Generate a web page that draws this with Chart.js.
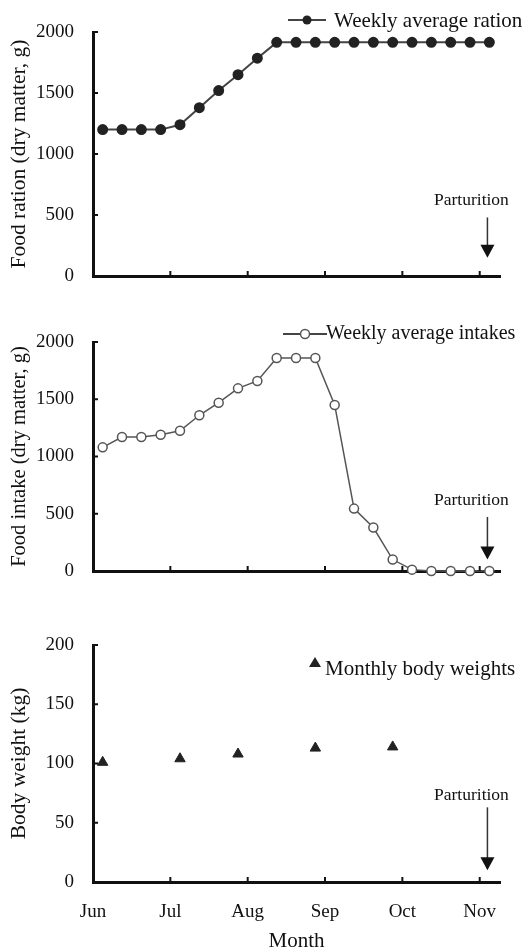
<!DOCTYPE html>
<html>
<head>
<meta charset="utf-8">
<script src="https://cdn.jsdelivr.net/npm/chart.js@4.4.0/dist/chart.umd.min.js"></script>
<style>
  body { margin: 0; background: #fff; width: 529px; height: 950px; overflow: hidden; }
  canvas { position: absolute; left: 0; }
</style>
</head>
<body>
<canvas id="rationChart" width="529" height="300" style="top:0"></canvas>
<canvas id="intakeChart" width="529" height="300" style="top:300px"></canvas>
<canvas id="weightChart" width="529" height="350" style="top:600px"></canvas>
<script>
// month labels sit on the week axis every 4 weeks
const months = ["Jun", "Jul", "Aug", "Sep", "Oct", "Nov"];
const monthWeeks = [0.5, 4.5, 8.5, 12.5, 16.5, 20.5];

const weeks = [1, 2, 3, 4, 5, 6, 7, 8, 9, 10, 11, 12, 13, 14, 15, 16, 17, 18, 19, 20, 21];
const rationValues = [1200, 1200, 1200, 1200, 1240, 1380, 1520, 1650, 1785, 1915, 1915,
  1915, 1915, 1915, 1915, 1915, 1915, 1915, 1915, 1915, 1915];
const intakeValues = [1080, 1170, 1170, 1190, 1225, 1360, 1470, 1595, 1660, 1860, 1860,
  1860, 1450, 545, 380, 100, 12, 0, 0, 0, 0];

const weightWeeks = [1, 5, 8, 12, 16];
const weightValues = [101, 104, 108, 113, 114];

const partWeek = 20.9;
const serif = "'Liberation Serif', 'Times New Roman', serif";

const decor = {
  id: "decor",
  afterDraw(chart, args, o) {
    const { ctx, chartArea: a, scales: { x, y } } = chart;
    const line = (x1, y1, x2, y2) => { ctx.beginPath(); ctx.moveTo(x1, y1); ctx.lineTo(x2, y2); ctx.stroke(); };
    ctx.save();
    // inward tick marks
    ctx.strokeStyle = "#111";
    ctx.lineWidth = 2;
    monthWeeks.slice(1).forEach(w => {
      const px = x.getPixelForValue(w);
      line(px, a.bottom, px, a.bottom - 5);
    });
    y.ticks.forEach(t => {
      if (t.value === 0) return;
      const py = y.getPixelForValue(t.value);
      line(a.left, py, a.left + 5, py);
    });

    // legend
    const lg = o.legend;
    ctx.strokeStyle = "#444";
    ctx.lineWidth = 2;
    if (lg.lineFrom != null) line(lg.lineFrom, lg.y, lg.lineTo, lg.y);
    ctx.lineWidth = 1.5;
    if (lg.marker === "dot") {
      ctx.fillStyle = "#222";
      ctx.beginPath(); ctx.arc(lg.mx, lg.y, 4.5, 0, Math.PI * 2); ctx.fill();
    } else if (lg.marker === "ring") {
      ctx.fillStyle = "#fff"; ctx.strokeStyle = "#555";
      ctx.beginPath(); ctx.arc(lg.mx, lg.y, 4.5, 0, Math.PI * 2); ctx.fill(); ctx.stroke();
    } else {
      ctx.fillStyle = "#222";
      ctx.beginPath();
      ctx.moveTo(lg.mx, lg.y - 6); ctx.lineTo(lg.mx + 6, lg.y + 4); ctx.lineTo(lg.mx - 6, lg.y + 4);
      ctx.closePath(); ctx.fill();
    }
    ctx.fillStyle = "#111";
    ctx.font = lg.size + "px " + serif;
    ctx.textAlign = "left";
    ctx.textBaseline = "middle";
    ctx.fillText(lg.text, lg.tx, lg.ty);

    // parturition arrow
    const p = o.part;
    const ax = x.getPixelForValue(partWeek);
    const y1 = y.getPixelForValue(p.from);
    const y2 = y.getPixelForValue(p.to);
    ctx.font = "17.5px " + serif;
    ctx.textAlign = "center";
    ctx.fillText("Parturition", ax - 16, y.getPixelForValue(p.label));
    ctx.strokeStyle = "#333";
    ctx.lineWidth = 1.5;
    line(ax, y1, ax, y2 - 10);
    ctx.fillStyle = "#111";
    ctx.beginPath();
    ctx.moveTo(ax - 7, y2 - 13); ctx.lineTo(ax + 7, y2 - 13); ctx.lineTo(ax, y2);
    ctx.closePath(); ctx.fill();
    ctx.restore();
  }
};

function xAxis(height, showLabels) {
  return {
    type: "linear",
    min: 0.5,
    max: 21.55,
    afterBuildTicks: s => { s.ticks = monthWeeks.map(v => ({ value: v })); },
    afterFit: s => { s.height = height; },
    grid: { display: false },
    border: { color: "#111", width: 3 },
    ticks: {
      display: showLabels,
      padding: 11,
      color: "#111",
      font: { family: serif, size: 19 },
      callback: (v, i) => months[i]
    },
    title: {
      display: showLabels,
      text: "Month",
      color: "#111",
      font: { family: serif, size: 21, lineHeight: 0.8 },
      padding: 0
    }
  };
}

function yAxis(max, step, title, titleSize) {
  return {
    min: 0,
    max: max,
    afterFit: s => { s.width = 93; },
    grid: { display: false },
    border: { color: "#111", width: 3 },
    ticks: {
      stepSize: step,
      padding: 11,
      color: "#111",
      font: { family: serif, size: 19 },
      callback: v => String(v)
    },
    title: {
      display: true,
      text: title,
      color: "#111",
      font: { family: serif, size: titleSize, lineHeight: 1 },
      padding: { top: 9 }
    }
  };
}

new Chart(document.getElementById("rationChart"), {
  type: "line",
  data: {
    datasets: [{
      label: "Weekly average ration",
      data: weeks.map((w, i) => ({ x: w, y: rationValues[i] })),
      borderColor: "#444",
      borderWidth: 2,
      pointRadius: 4.5,
      pointBackgroundColor: "#222",
      pointBorderColor: "#222",
      clip: false
    }]
  },
  options: {
    responsive: false,
    animation: false,
    layout: { padding: { top: 32, right: 29, left: 0, bottom: 0 } },
    scales: { x: xAxis(24, false), y: yAxis(2000, 500, "Food ration (dry matter, g)", 21.5) },
    plugins: {
      legend: { display: false },
      tooltip: { enabled: false },
      decor: {
        legend: { text: "Weekly average ration", size: 21, marker: "dot", lineFrom: 288, lineTo: 326, mx: 307, y: 20, tx: 334, ty: 21 },
        part: { label: 620, from: 480, to: 150 }
      }
    }
  },
  plugins: [decor]
});

new Chart(document.getElementById("intakeChart"), {
  type: "line",
  data: {
    datasets: [{
      label: "Weekly average intakes",
      data: weeks.map((w, i) => ({ x: w, y: intakeValues[i] })),
      borderColor: "#555",
      borderWidth: 1.5,
      pointRadius: 4.5,
      pointBackgroundColor: "#fff",
      pointBorderColor: "#555",
      pointBorderWidth: 1.5,
      clip: false
    }]
  },
  options: {
    responsive: false,
    animation: false,
    layout: { padding: { top: 42, right: 29, left: 0, bottom: 0 } },
    scales: { x: xAxis(29, false), y: yAxis(2000, 500, "Food intake (dry matter, g)", 20.5) },
    plugins: {
      legend: { display: false },
      tooltip: { enabled: false },
      decor: {
        legend: { text: "Weekly average intakes", size: 20, marker: "ring", lineFrom: 283, lineTo: 327, mx: 305, y: 34, tx: 326, ty: 34 },
        part: { label: 617, from: 472, to: 100 }
      }
    }
  },
  plugins: [decor]
});

new Chart(document.getElementById("weightChart"), {
  type: "scatter",
  data: {
    datasets: [{
      label: "Monthly body weights",
      data: weightWeeks.map((w, i) => ({ x: w, y: weightValues[i] })),
      pointStyle: "triangle",
      pointRadius: 6,
      pointBackgroundColor: "#222",
      pointBorderColor: "#222",
      clip: false
    }]
  },
  options: {
    responsive: false,
    animation: false,
    layout: { padding: { top: 45, right: 29, left: 0, bottom: 0 } },
    scales: { x: xAxis(68, true), y: yAxis(200, 50, "Body weight (kg)", 21.5) },
    plugins: {
      legend: { display: false },
      tooltip: { enabled: false },
      decor: {
        legend: { text: "Monthly body weights", size: 21, marker: "tri", mx: 315, y: 63, tx: 325, ty: 69 },
        part: { label: 73, from: 63, to: 10 }
      }
    }
  },
  plugins: [decor]
});
</script>
</body>
</html>
